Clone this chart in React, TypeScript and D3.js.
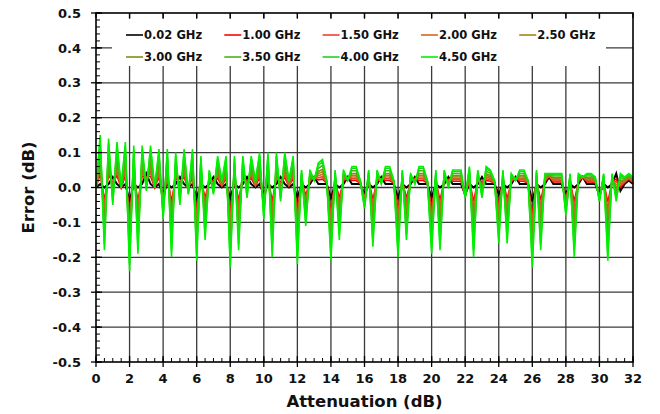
import React from "react";
import * as d3 from "d3";

// Attenuation setting (dB), 0.25 dB steps from 0 to 32
const attenuation: number[] = d3.range(0, 129).map((i) => i * 0.25);

const err002 = [
  0, 0.01, 0, 0.01, 0.03, 0.01, 0, 0.01,
  -0.04, 0.01, 0, 0.01, 0.04, 0.01, 0, 0.01,
  -0.02, 0.01, 0, 0.01, 0.03, 0.01, 0, 0.01,
  -0.03, 0.01, 0, 0.01, 0.03, 0.01, 0, 0.01,
  -0.03, 0.01, 0, 0.01, 0.03, 0.01, 0, 0.01,
  -0.02, 0.01, 0, 0.01, 0.03, 0.01, 0, 0.01,
  -0.03, 0.01, 0, 0.01, 0.03, 0.01, 0.01, 0.01,
  -0.03, 0.01, 0, 0.01, 0.03, 0.01, 0.01, 0.01,
  -0.02, 0.01, 0, 0.01, 0.03, 0.01, 0.01, 0.01,
  -0.03, 0.01, 0, 0.01, 0.03, 0.01, 0.01, 0.01,
  -0.03, 0.01, 0, 0.01, 0.03, 0.01, 0.01, 0.01,
  -0.02, 0.01, 0, 0.01, 0.03, 0.01, 0.01, 0.01,
  -0.02, 0.01, 0, 0.01, 0.03, 0.01, 0.01, 0.01,
  -0.04, 0.01, 0, 0.01, 0.03, 0.01, 0.01, 0.01,
  -0.02, 0.01, 0, 0.01, 0.03, 0.01, 0.01, 0.01,
  -0.02, 0.01, 0, 0.01, 0.04, -0.01, 0.01, 0.02,
  0.01,
];

const err100 = [
  0, 0.038, -0.036, 0.036, 0.014, 0.034, 0, 0.034,
  -0.08, 0.032, -0.038, 0.032, 0.03, 0.032, 0, 0.03,
  -0.034, 0.03, -0.04, 0.028, 0.014, 0.03, -0.004, 0.03,
  -0.066, 0.026, -0.03, 0.018, 0.02, 0.026, 0.004, 0.026,
  -0.07, 0.026, -0.036, 0.026, 0.018, 0.026, 0.004, 0.028,
  -0.034, 0.028, -0.04, 0.028, 0.016, 0.028, 0.004, 0.026,
  -0.068, 0.018, -0.022, 0.018, 0.028, 0.022, 0.024, 0.012,
  -0.066, 0.018, -0.03, 0.018, 0.028, 0.02, 0.02, 0.012,
  -0.028, 0.018, -0.034, 0.018, 0.026, 0.02, 0.02, 0.012,
  -0.064, 0.018, -0.03, 0.016, 0.026, 0.02, 0.02, 0.012,
  -0.062, 0.018, -0.036, 0.018, 0.024, 0.018, 0.018, 0.018,
  -0.022, 0.02, -0.04, 0.018, 0.018, 0.02, 0.018, 0.012,
  -0.048, 0.018, -0.032, 0.016, 0.028, 0.018, 0.018, 0.012,
  -0.078, 0.018, -0.036, 0.016, 0.032, 0.016, 0.016, 0.016,
  -0.032, 0.016, -0.04, 0.016, 0.03, 0.016, 0.016, 0.014,
  -0.024, 0.016, -0.042, 0.016, 0.024, 0, 0.014, 0.024,
  0.014,
];

const err150 = [
  0, 0.052, -0.054, 0.049, 0.006, 0.046, 0, 0.046,
  -0.1, 0.043, -0.057, 0.043, 0.025, 0.043, 0, 0.04,
  -0.041, 0.04, -0.06, 0.037, 0.006, 0.04, -0.006, 0.04,
  -0.084, 0.034, -0.045, 0.022, 0.015, 0.034, 0.006, 0.034,
  -0.09, 0.034, -0.054, 0.034, 0.012, 0.034, 0.006, 0.037,
  -0.041, 0.037, -0.06, 0.037, 0.009, 0.037, 0.006, 0.034,
  -0.087, 0.022, -0.033, 0.022, 0.027, 0.028, 0.031, 0.013,
  -0.084, 0.022, -0.045, 0.022, 0.027, 0.025, 0.025, 0.013,
  -0.032, 0.022, -0.051, 0.022, 0.024, 0.025, 0.025, 0.013,
  -0.081, 0.022, -0.045, 0.019, 0.024, 0.025, 0.025, 0.013,
  -0.078, 0.022, -0.054, 0.022, 0.021, 0.022, 0.022, 0.022,
  -0.023, 0.025, -0.06, 0.022, 0.012, 0.025, 0.022, 0.013,
  -0.062, 0.022, -0.048, 0.019, 0.027, 0.022, 0.022, 0.013,
  -0.097, 0.022, -0.054, 0.019, 0.033, 0.019, 0.019, 0.019,
  -0.038, 0.019, -0.06, 0.019, 0.03, 0.019, 0.019, 0.016,
  -0.026, 0.019, -0.063, 0.019, 0.016, 0.005, 0.016, 0.026,
  0.016,
];

const err200 = [
  0, 0.066, -0.072, 0.062, -0.002, 0.058, 0, 0.058,
  -0.12, 0.054, -0.076, 0.054, 0.02, 0.054, 0, 0.05,
  -0.048, 0.05, -0.08, 0.046, -0.002, 0.05, -0.008, 0.05,
  -0.102, 0.042, -0.06, 0.026, 0.01, 0.042, 0.008, 0.042,
  -0.11, 0.042, -0.072, 0.042, 0.006, 0.042, 0.008, 0.046,
  -0.048, 0.046, -0.08, 0.046, 0.002, 0.046, 0.008, 0.042,
  -0.106, 0.026, -0.044, 0.026, 0.026, 0.034, 0.038, 0.014,
  -0.102, 0.026, -0.06, 0.026, 0.026, 0.03, 0.03, 0.014,
  -0.036, 0.026, -0.068, 0.026, 0.022, 0.03, 0.03, 0.014,
  -0.098, 0.026, -0.06, 0.022, 0.022, 0.03, 0.03, 0.014,
  -0.094, 0.026, -0.072, 0.026, 0.018, 0.026, 0.026, 0.026,
  -0.024, 0.03, -0.08, 0.026, 0.006, 0.03, 0.026, 0.014,
  -0.076, 0.026, -0.064, 0.022, 0.026, 0.026, 0.026, 0.014,
  -0.116, 0.026, -0.072, 0.022, 0.034, 0.022, 0.022, 0.022,
  -0.044, 0.022, -0.08, 0.022, 0.03, 0.022, 0.022, 0.018,
  -0.028, 0.022, -0.084, 0.022, 0.008, 0.01, 0.018, 0.028,
  0.018,
];

const err250 = [
  0, 0.08, -0.09, 0.075, -0.01, 0.07, 0, 0.07,
  -0.14, 0.065, -0.095, 0.065, 0.015, 0.065, 0, 0.06,
  -0.055, 0.06, -0.1, 0.055, -0.01, 0.06, -0.01, 0.06,
  -0.12, 0.05, -0.075, 0.03, 0.005, 0.05, 0.01, 0.05,
  -0.13, 0.05, -0.09, 0.05, 0, 0.05, 0.01, 0.055,
  -0.055, 0.055, -0.1, 0.055, -0.005, 0.055, 0.01, 0.05,
  -0.125, 0.03, -0.055, 0.03, 0.025, 0.04, 0.045, 0.015,
  -0.12, 0.03, -0.075, 0.03, 0.025, 0.035, 0.035, 0.015,
  -0.04, 0.03, -0.085, 0.03, 0.02, 0.035, 0.035, 0.015,
  -0.115, 0.03, -0.075, 0.025, 0.02, 0.035, 0.035, 0.015,
  -0.11, 0.03, -0.09, 0.03, 0.015, 0.03, 0.03, 0.03,
  -0.025, 0.035, -0.1, 0.03, 0, 0.035, 0.03, 0.015,
  -0.09, 0.03, -0.08, 0.025, 0.025, 0.03, 0.03, 0.015,
  -0.135, 0.03, -0.09, 0.025, 0.035, 0.025, 0.025, 0.025,
  -0.05, 0.025, -0.1, 0.025, 0.03, 0.025, 0.025, 0.02,
  -0.03, 0.025, -0.105, 0.025, 0, 0.015, 0.02, 0.03,
  0.02,
];

const err300 = [
  0, 0.094, -0.108, 0.088, -0.018, 0.082, 0, 0.082,
  -0.16, 0.076, -0.114, 0.076, 0.01, 0.076, 0, 0.07,
  -0.062, 0.07, -0.12, 0.064, -0.018, 0.07, -0.012, 0.07,
  -0.138, 0.058, -0.09, 0.034, 0, 0.058, 0.012, 0.058,
  -0.15, 0.058, -0.108, 0.058, -0.006, 0.058, 0.012, 0.064,
  -0.062, 0.064, -0.12, 0.064, -0.012, 0.064, 0.012, 0.058,
  -0.144, 0.034, -0.066, 0.034, 0.024, 0.046, 0.052, 0.016,
  -0.138, 0.034, -0.09, 0.034, 0.024, 0.04, 0.04, 0.016,
  -0.044, 0.034, -0.102, 0.034, 0.018, 0.04, 0.04, 0.016,
  -0.132, 0.034, -0.09, 0.028, 0.018, 0.04, 0.04, 0.016,
  -0.126, 0.034, -0.108, 0.034, 0.012, 0.034, 0.034, 0.034,
  -0.026, 0.04, -0.12, 0.034, -0.006, 0.04, 0.034, 0.016,
  -0.104, 0.034, -0.096, 0.028, 0.024, 0.034, 0.034, 0.016,
  -0.154, 0.034, -0.108, 0.028, 0.036, 0.028, 0.028, 0.028,
  -0.056, 0.028, -0.12, 0.028, 0.03, 0.028, 0.028, 0.022,
  -0.032, 0.028, -0.126, 0.028, -0.008, 0.02, 0.022, 0.032,
  0.022,
];

const err350 = [
  0, 0.115, -0.135, 0.108, -0.03, 0.1, 0, 0.1,
  -0.19, 0.093, -0.143, 0.093, 0.003, 0.093, 0, 0.085,
  -0.073, 0.085, -0.15, 0.078, -0.03, 0.085, -0.015, 0.085,
  -0.165, 0.07, -0.113, 0.04, -0.008, 0.07, 0.015, 0.07,
  -0.18, 0.07, -0.135, 0.07, -0.015, 0.07, 0.015, 0.078,
  -0.073, 0.078, -0.15, 0.078, -0.023, 0.078, 0.015, 0.07,
  -0.173, 0.04, -0.083, 0.04, 0.023, 0.055, 0.063, 0.018,
  -0.165, 0.04, -0.113, 0.04, 0.023, 0.048, 0.048, 0.018,
  -0.05, 0.04, -0.128, 0.04, 0.015, 0.048, 0.048, 0.018,
  -0.158, 0.04, -0.113, 0.033, 0.015, 0.048, 0.048, 0.018,
  -0.15, 0.04, -0.135, 0.04, 0.008, 0.04, 0.04, 0.04,
  -0.028, 0.048, -0.15, 0.04, -0.015, 0.048, 0.04, 0.018,
  -0.125, 0.04, -0.12, 0.033, 0.023, 0.04, 0.04, 0.018,
  -0.183, 0.04, -0.135, 0.033, 0.038, 0.033, 0.033, 0.033,
  -0.065, 0.033, -0.15, 0.033, 0.03, 0.033, 0.033, 0.025,
  -0.035, 0.033, -0.158, 0.033, -0.02, 0.028, 0.025, 0.035,
  0.025,
];

const err400 = [
  0, 0.136, -0.162, 0.127, -0.042, 0.118, 0, 0.118,
  -0.22, 0.109, -0.171, 0.109, -0.005, 0.109, 0, 0.1,
  -0.083, 0.1, -0.18, 0.091, -0.042, 0.1, -0.018, 0.1,
  -0.192, 0.082, -0.135, 0.046, -0.015, 0.082, 0.018, 0.082,
  -0.21, 0.082, -0.162, 0.082, -0.024, 0.082, 0.018, 0.091,
  -0.083, 0.091, -0.18, 0.091, -0.033, 0.091, 0.018, 0.082,
  -0.201, 0.046, -0.099, 0.046, 0.021, 0.064, 0.073, 0.019,
  -0.192, 0.046, -0.135, 0.046, 0.021, 0.055, 0.055, 0.019,
  -0.056, 0.046, -0.153, 0.046, 0.012, 0.055, 0.055, 0.019,
  -0.183, 0.046, -0.135, 0.037, 0.012, 0.055, 0.055, 0.019,
  -0.174, 0.046, -0.162, 0.046, 0.003, 0.046, 0.046, 0.046,
  -0.029, 0.055, -0.18, 0.046, -0.024, 0.055, 0.046, 0.019,
  -0.146, 0.046, -0.144, 0.037, 0.021, 0.046, 0.046, 0.019,
  -0.211, 0.046, -0.162, 0.037, 0.039, 0.037, 0.037, 0.037,
  -0.074, 0.037, -0.18, 0.037, 0.03, 0.037, 0.037, 0.028,
  -0.038, 0.037, -0.189, 0.037, -0.032, 0.035, 0.028, 0.038,
  0.028,
];

const err450 = [
  0, 0.15, -0.18, 0.14, -0.05, 0.13, 0, 0.13,
  -0.24, 0.12, -0.19, 0.12, -0.01, 0.12, 0, 0.11,
  -0.09, 0.11, -0.2, 0.1, -0.05, 0.11, -0.02, 0.11,
  -0.21, 0.09, -0.15, 0.05, -0.02, 0.09, 0.02, 0.09,
  -0.23, 0.09, -0.18, 0.09, -0.03, 0.09, 0.02, 0.1,
  -0.09, 0.1, -0.2, 0.1, -0.04, 0.1, 0.02, 0.09,
  -0.22, 0.05, -0.11, 0.05, 0.02, 0.07, 0.08, 0.02,
  -0.21, 0.05, -0.15, 0.05, 0.02, 0.06, 0.06, 0.02,
  -0.06, 0.05, -0.17, 0.05, 0.01, 0.06, 0.06, 0.02,
  -0.2, 0.05, -0.15, 0.04, 0.01, 0.06, 0.06, 0.02,
  -0.19, 0.05, -0.18, 0.05, 0, 0.05, 0.05, 0.05,
  -0.03, 0.06, -0.2, 0.05, -0.03, 0.06, 0.05, 0.02,
  -0.16, 0.05, -0.16, 0.04, 0.02, 0.05, 0.05, 0.02,
  -0.23, 0.05, -0.18, 0.04, 0.04, 0.04, 0.04, 0.04,
  -0.08, 0.04, -0.2, 0.04, 0.03, 0.04, 0.04, 0.03,
  -0.04, 0.04, -0.21, 0.04, -0.04, 0.04, 0.03, 0.04,
  0.03,
];

const seriesLabels = [
  "0.02 GHz", "1.00 GHz", "1.50 GHz", "2.00 GHz", "2.50 GHz",
  "3.00 GHz", "3.50 GHz", "4.00 GHz", "4.50 GHz",
];
const seriesValues = [err002, err100, err150, err200, err250, err300, err350, err400, err450];
const seriesColors = [
  "#000000", "#ff0000", "#f0422a", "#cc6a22", "#a8801a",
  "#7f8f10", "#4cb21c", "#22d222", "#00f000",
];

const xTicks = d3.range(0, 33, 2);
const yTicks = [-0.5, -0.4, -0.3, -0.2, -0.1, 0, 0.1, 0.2, 0.3, 0.4, 0.5];

const W = 660;
const H = 414;
const L = 96, R = 633, T = 13, B = 362;
const FONT = "'DejaVu Sans', Verdana, sans-serif";

export default function App() {
  const x = d3.scaleLinear().domain([0, 32]).range([L, R]);
  const y = d3.scaleLinear().domain([-0.5, 0.5]).range([B, T]);
  const line = d3
    .line<number>()
    .x((_, i) => x(attenuation[i]))
    .y((d) => y(d));

  const xMinor = d3.range(0, 32.01, 0.5);
  const yMinor = d3.range(-0.5, 0.501, 0.02);

  const legendX0 = 126, legendDX = 98.3, legendY0 = 35, legendDY = 22;

  return (
    <svg
      width={W}
      height={H}
      style={{ position: "absolute", left: 0, top: 0, background: "#fff" }}
      fontFamily={FONT}
    >
      <rect x={0} y={0} width={W} height={H} fill="#fff" />
      {/* grid */}
      {xTicks.slice(1, -1).map((t) => (
        <line key={"gx" + t} x1={x(t)} x2={x(t)} y1={T} y2={B} stroke="#3a3a3a" strokeWidth={1.3} />
      ))}
      {yTicks.slice(1, -1).map((t) => (
        <line key={"gy" + t} x1={L} x2={R} y1={y(t)} y2={y(t)} stroke="#3a3a3a" strokeWidth={1.3} />
      ))}
      {/* legend background */}
      <rect x={112} y={19} width={494} height={47} fill="#fff" />
      {/* series, lowest frequency first so the highest sits on top */}
      {seriesValues.map((vals, i) => (
        <path
          key={"s" + i}
          d={line(vals) || ""}
          fill="none"
          stroke={seriesColors[i]}
          strokeWidth={i === 0 ? 2 : 1.6}
        />
      ))}
      {/* frame */}
      <rect x={L} y={T} width={R - L} height={B - T} fill="none" stroke="#000" strokeWidth={1.6} />
      {/* left ticks */}
      {yMinor.map((t, i) => (
        <line key={"ym" + i} x1={L} x2={L + 4} y1={y(t)} y2={y(t)} stroke="#000" strokeWidth={1} />
      ))}
      {yTicks.map((t) => (
        <line key={"yM" + t} x1={L - 5} x2={L + 6} y1={y(t)} y2={y(t)} stroke="#000" strokeWidth={1.3} />
      ))}
      {/* bottom ticks */}
      {xMinor.map((t, i) => (
        <line key={"xm" + i} x1={x(t)} x2={x(t)} y1={B} y2={B - 4} stroke="#000" strokeWidth={1} />
      ))}
      {xTicks.map((t) => (
        <line key={"xM" + t} x1={x(t)} x2={x(t)} y1={B + 5} y2={B - 6} stroke="#000" strokeWidth={1.3} />
      ))}
      {/* top ticks */}
      {xTicks.map((t) => (
        <line key={"xT" + t} x1={x(t)} x2={x(t)} y1={T} y2={T + 5} stroke="#000" strokeWidth={1.3} />
      ))}
      {/* tick labels */}
      {yTicks.map((t) => (
        <text key={"yl" + t} x={L - 15} y={y(t)} dy="0.36em" textAnchor="end" fontSize={13} fontWeight="bold" fill="#111">
          {d3.format(".1f")(t).replace("−", "-")}
        </text>
      ))}
      {xTicks.map((t) => (
        <text key={"xl" + t} x={x(t)} y={B + 21} textAnchor="middle" fontSize={13} fontWeight="bold" fill="#111">
          {t}
        </text>
      ))}
      {/* axis titles */}
      <text x={(L + R) / 2} y={407} textAnchor="middle" fontSize={16.5} fontWeight="bold" fill="#111">
        Attenuation (dB)
      </text>
      <text
        transform={`translate(34,${(T + B) / 2}) rotate(-90)`}
        textAnchor="middle"
        fontSize={16.5}
        fontWeight="bold"
        fill="#111"
      >
        Error (dB)
      </text>
      {/* legend */}
      {seriesLabels.map((lab, i) => {
        const col = i % 5;
        const row = Math.floor(i / 5);
        const lx = legendX0 + col * legendDX;
        const ly = legendY0 + row * legendDY;
        return (
          <g key={"lg" + i}>
            <line x1={lx} x2={lx + 17} y1={ly} y2={ly} stroke={seriesColors[i]} strokeWidth={1.6} />
            <text x={lx + 18} y={ly} dy="0.36em" fontSize={11.5} fontWeight="bold" fill="#111">
              {lab}
            </text>
          </g>
        );
      })}
    </svg>
  );
}
